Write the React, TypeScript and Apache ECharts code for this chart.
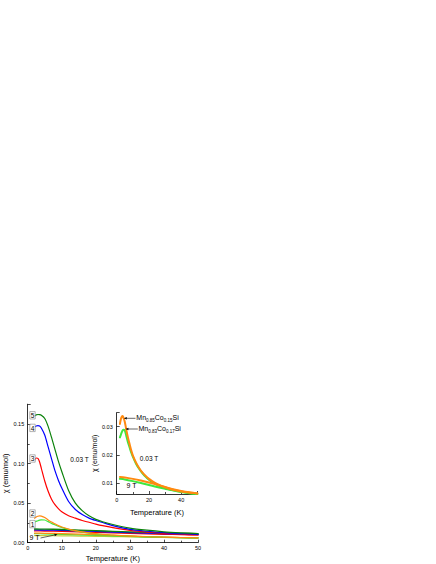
import React, { useEffect, useRef } from "react";
import * as echarts from "echarts";

const FONT = "Liberation Sans, Arial, sans-serif";

// Temperatures (K)
const tempsLowField = [2, 2.5, 3, 3.5, 4, 5, 6, 7, 8, 9, 10, 12, 14, 16, 18, 20, 22, 25, 30, 35, 40, 45, 50];
const tempsHighField = [2, 5, 10, 15, 20, 25, 30, 35, 40, 45, 50];

// chi (emu/mol) at 0.03 T, samples 1..5
const chi1Low = [0.0262, 0.027, 0.0278, 0.0285, 0.0289, 0.0287, 0.0266, 0.0244, 0.0226, 0.0208, 0.0193, 0.0168, 0.0149, 0.0134, 0.0121, 0.0111, 0.0103, 0.0093, 0.0081, 0.0073, 0.0067, 0.0063, 0.006];
const chi2Low = [0.031, 0.0325, 0.0334, 0.0338, 0.0335, 0.0318, 0.0288, 0.0261, 0.0238, 0.0216, 0.0198, 0.0172, 0.0152, 0.0136, 0.0124, 0.0114, 0.0106, 0.0096, 0.0084, 0.0075, 0.0069, 0.0065, 0.0062];
const chi3Low = [0.104, 0.107, 0.1065, 0.102, 0.094, 0.078, 0.065, 0.055, 0.048, 0.043, 0.039, 0.034, 0.031, 0.028, 0.0258, 0.0235, 0.0215, 0.019, 0.0155, 0.0133, 0.0118, 0.0107, 0.0098];
const chi4Low = [0.146, 0.1475, 0.148, 0.1475, 0.145, 0.136, 0.121, 0.106, 0.091, 0.079, 0.069, 0.052, 0.042, 0.0355, 0.031, 0.028, 0.0255, 0.0215, 0.0168, 0.0145, 0.0127, 0.0115, 0.0105];
const chi5Low = [0.16, 0.1615, 0.162, 0.1618, 0.161, 0.157, 0.147, 0.133, 0.118, 0.103, 0.09, 0.066, 0.05, 0.0405, 0.034, 0.0295, 0.0265, 0.023, 0.0185, 0.0158, 0.0138, 0.0125, 0.0115];

// chi (emu/mol) at 9 T
const chi1High = [0.0114, 0.0112, 0.0106, 0.0099, 0.0092, 0.0085, 0.0079, 0.0073, 0.0068, 0.0064, 0.006];
const chi2High = [0.0121, 0.0119, 0.0114, 0.0108, 0.0101, 0.0093, 0.0085, 0.0077, 0.0071, 0.0066, 0.0062];
const chi3High = [0.0149, 0.0148, 0.0143, 0.0137, 0.0131, 0.0124, 0.0117, 0.0111, 0.0106, 0.0102, 0.0098];
const chi4High = [0.0161, 0.016, 0.0155, 0.0149, 0.0142, 0.0135, 0.0128, 0.0121, 0.0115, 0.011, 0.0105];
const chi5High = [0.0173, 0.0172, 0.0167, 0.016, 0.0152, 0.0144, 0.0137, 0.013, 0.0124, 0.0119, 0.0115];
const chiExtraHigh = [0.009, 0.0089, 0.0087, 0.0084, 0.0081, 0.0078, 0.0074, 0.0071, 0.0068, 0.0065, 0.0062];

// labels
const sampleLabels = ["5", "4", "3", "2", "1"];
const mainYTicks = [0, 0.05, 0.1, 0.15];
const insetYTicks = [0.01, 0.02, 0.03];
const insetXTicks = [0, 20, 40];

const C_DKGREEN = "#0b820b";
const C_BLUE = "#0000ff";
const C_RED = "#ff0000";
const C_ORANGE = "#ff8a10";
const C_LTGREEN = "#3ee83e";
const C_OLIVE = "#c8c83c";

function pairs(t: number[], v: number[]) {
  return t.map((x, i) => [x, v[i]]);
}

function line(name: string, t: number[], v: number[], color: string, width: number, idx: number, z: number) {
  return {
    type: "line",
    name,
    xAxisIndex: idx,
    yAxisIndex: idx,
    data: pairs(t, v),
    showSymbol: false,
    symbol: "none",
    smooth: 0.25,
    silent: true,
    z,
    lineStyle: { color, width, cap: "round", join: "round" },
    itemStyle: { color },
  };
}

function arrow(x1: number, y1: number, x2: number, y2: number) {
  const dx = x2 - x1;
  const dy = y2 - y1;
  const len = Math.sqrt(dx * dx + dy * dy);
  const ux = dx / len;
  const uy = dy / len;
  const L = 3;
  const W = 1.2;
  const bx = x2 - ux * L;
  const by = y2 - uy * L;
  return [
    { type: "line", z: 100, shape: { x1, y1, x2: bx, y2: by }, style: { stroke: "#000", lineWidth: 0.6 } },
    {
      type: "polygon",
      z: 100,
      shape: { points: [[x2, y2], [bx - uy * W, by + ux * W], [bx + uy * W, by - ux * W]] },
      style: { fill: "#000" },
    },
  ];
}

function boxLabel(text: string, x: number, y: number) {
  return [
    { type: "rect", z: 100, shape: { x, y, width: 5.4, height: 7.4 }, style: { fill: "#fff", stroke: "#808080", lineWidth: 0.6 } },
    {
      type: "text",
      z: 101,
      x: x + 2.7,
      y: y + 3.9,
      style: { text, fontSize: 6.5, fontFamily: FONT, fill: "#000", align: "center", verticalAlign: "middle" },
    },
  ];
}

function plainText(text: string, x: number, y: number, size: number) {
  return {
    type: "text",
    z: 101,
    x,
    y,
    style: { text, fontSize: size, fontFamily: FONT, fill: "#000", align: "center", verticalAlign: "middle" },
  };
}

function formula(a: string, b: string, x: number, y: number) {
  return {
    type: "text",
    z: 101,
    x,
    y,
    style: {
      text: `{n|Mn}{s|${a}}{n|Co}{s|${b}}{n|Si}`,
      align: "left",
      verticalAlign: "middle",
      rich: {
        n: { fontSize: 7, fontFamily: FONT, fill: "#000", lineHeight: 9, verticalAlign: "top" },
        s: { fontSize: 4.5, fontFamily: FONT, fill: "#000", lineHeight: 5, padding: [4.5, 0, 0, 0], verticalAlign: "top" },
      },
    },
  };
}

const axisCommon = {
  axisLine: { show: true, onZero: false, lineStyle: { color: "#000", width: 0.8 } },
  axisTick: { show: true, inside: true, length: 3, lineStyle: { color: "#000", width: 0.7 } },
  splitLine: { show: false },
  nameTextStyle: { color: "#000", fontFamily: FONT },
};

export default function App() {
  const ref = useRef<HTMLDivElement>(null);
  useEffect(() => {
    if (!ref.current) return;
    const chart = echarts.init(ref.current, undefined, { renderer: "svg" });
    const has = (arr: number[], v: number) => arr.some((a) => Math.abs(a - v) < 1e-9);
    const option = {
      animation: false,
      backgroundColor: "#fff",
      textStyle: { fontFamily: FONT },
      grid: [
        { left: 27.7, top: 404.2, width: 170.3, height: 138.5, containLabel: false },
        { left: 116.7, top: 412.7, width: 80.6, height: 81.3, containLabel: false },
      ],
      xAxis: [
        {
          ...axisCommon,
          type: "value",
          gridIndex: 0,
          min: 0,
          max: 50,
          interval: 10,
          minorTick: { show: true, splitNumber: 2, length: 2, lineStyle: { color: "#000", width: 0.7 } },
          axisLabel: { fontSize: 5.5, margin: 2.5, color: "#000", fontFamily: FONT },
          name: "Temperature (K)",
          nameLocation: "middle",
          nameGap: 11.5,
          nameTextStyle: { ...axisCommon.nameTextStyle, fontSize: 7.5 },
        },
        {
          ...axisCommon,
          type: "value",
          gridIndex: 1,
          min: 0,
          max: 50,
          interval: 20,
          minorTick: { show: true, splitNumber: 2, length: 2, lineStyle: { color: "#000", width: 0.7 } },
          axisLabel: {
            fontSize: 5.5,
            margin: 3,
            color: "#000",
            fontFamily: FONT,
            formatter: (v: number) => (has(insetXTicks, v) ? String(v) : ""),
          },
          name: "Temperature (K)",
          nameLocation: "middle",
          nameGap: 14,
          nameTextStyle: { ...axisCommon.nameTextStyle, fontSize: 7.5 },
        },
      ],
      yAxis: [
        {
          ...axisCommon,
          type: "value",
          gridIndex: 0,
          min: 0,
          max: 0.175,
          interval: 0.05,
          minorTick: { show: true, splitNumber: 2, length: 2, lineStyle: { color: "#000", width: 0.7 } },
          axisLabel: {
            fontSize: 5.5,
            margin: 3.5,
            color: "#000",
            fontFamily: FONT,
            formatter: (v: number) => (has(mainYTicks, v) ? v.toFixed(2) : ""),
          },
          name: "χ (emu/mol)",
          nameLocation: "middle",
          nameGap: 15.5,
          nameRotate: 90,
          nameTextStyle: { ...axisCommon.nameTextStyle, fontSize: 7.5 },
        },
        {
          ...axisCommon,
          type: "value",
          gridIndex: 1,
          min: 0.006,
          max: 0.035,
          splitNumber: 3,
          axisLabel: {
            fontSize: 5.5,
            margin: 4,
            color: "#000",
            fontFamily: FONT,
            formatter: (v: number) => (has(insetYTicks, v) ? v.toFixed(2) : ""),
          },
          name: "χ (emu/mol)",
          nameLocation: "middle",
          nameGap: 16,
          nameRotate: 90,
          nameTextStyle: { ...axisCommon.nameTextStyle, fontSize: 7 },
        },
      ],
      series: [
        // main, 9 T
        line("extra 9T", tempsHighField, chiExtraHigh, C_OLIVE, 1.2, 0, 2),
        line("1 9T", tempsHighField, chi1High, C_LTGREEN, 1.2, 0, 2),
        line("2 9T", tempsHighField, chi2High, C_ORANGE, 1.2, 0, 2),
        line("3 9T", tempsHighField, chi3High, C_RED, 1.3, 0, 3),
        line("4 9T", tempsHighField, chi4High, C_BLUE, 1.3, 0, 3),
        line("5 9T", tempsHighField, chi5High, C_DKGREEN, 1.3, 0, 3),
        // main, 0.03 T
        line("1", tempsLowField, chi1Low, C_LTGREEN, 1.2, 0, 4),
        line("2", tempsLowField, chi2Low, C_ORANGE, 1.2, 0, 4),
        line("3", tempsLowField, chi3Low, C_RED, 1.2, 0, 4),
        line("4", tempsLowField, chi4Low, C_BLUE, 1.2, 0, 4),
        line("5", tempsLowField, chi5Low, C_DKGREEN, 1.2, 0, 4),
        // inset
        line("inset 1 9T", tempsHighField, chi1High, C_LTGREEN, 2, 1, 5),
        line("inset 2 9T", tempsHighField, chi2High, C_ORANGE, 2, 1, 6),
        line("inset 1", tempsLowField, chi1Low, C_LTGREEN, 2, 1, 5),
        line("inset 2", tempsLowField, chi2Low, C_ORANGE, 2, 1, 6),
      ],
      graphic: [
        ...boxLabel(sampleLabels[0], 29.8, 411.6),
        ...boxLabel(sampleLabels[1], 29.8, 424.2),
        ...boxLabel(sampleLabels[2], 29.8, 454.8),
        ...boxLabel(sampleLabels[3], 29.8, 509.8),
        ...boxLabel(sampleLabels[4], 29.8, 520.4),
        plainText("0.03 T", 79.5, 459, 6.5),
        plainText("9 T", 34.5, 537.5, 7),
        ...arrow(40.5, 538, 57.5, 534.4),
        plainText("0.03 T", 149, 458.3, 6.5),
        plainText("9 T", 131.5, 485, 7),
        ...arrow(135.5, 418.3, 123.8, 418.3),
        ...arrow(137.8, 429, 125.5, 429),
        formula("0.85", "0.15", 136.3, 418.3),
        formula("0.83", "0.17", 138.5, 429),
      ],
    };
    chart.setOption(option as any);
    return () => chart.dispose();
  }, []);
  return <div ref={ref} style={{ position: "absolute", left: 0, top: 0, width: 436, height: 564 }} />;
}
